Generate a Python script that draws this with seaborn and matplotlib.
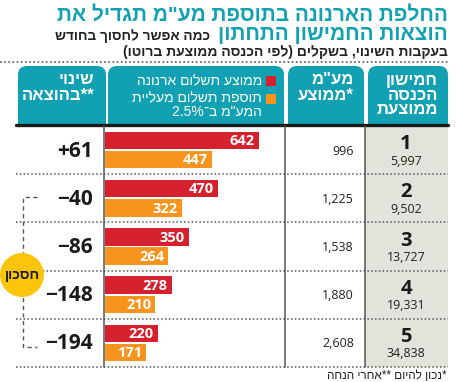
import re
import numpy as np
import pandas as pd
import matplotlib.pyplot as plt
import seaborn as sns
from matplotlib.patches import FancyBboxPatch, Rectangle, Circle

# נתונים לפי חמישון
quintiles = ['1', '2', '3', '4', '5']
income = [5997, 9502, 13727, 19331, 34838]
vat_avg = [996, 1225, 1538, 1880, 2608]
arnona = [642, 470, 350, 278, 220]
vat_extra = [447, 322, 264, 210, 171]
change = ['+61', '\u221240', '\u221286', '\u2212148', '\u2212194']

series_names = ['ממוצע תשלום ארנונה', 'תוספת תשלום מעליית המע"מ ב־2.5%']

TEAL = '#12a1b2'
RED = '#d5202e'
ORANGE = '#f7941d'
GRAY_BG = '#e3e2db'
LINE = '#555555'
HEB = ['Liberation Sans', 'DejaVu Sans']
NUM = ['Open Sans', 'DejaVu Sans']


def rtl(s):
    # matplotlib has no bidi: reverse for display, keep numbers left-to-right
    mirror = {'(': ')', ')': '('}
    r = ''.join(mirror.get(c, c) for c in s[::-1])
    return re.sub(r'[0-9.,%]*[0-9][0-9.,%]*', lambda m: m.group(0)[::-1], r)


sns.set_theme(style='white')
plt.rcParams['font.family'] = NUM

W, H = 458, 382
fig = plt.figure(figsize=(W / 100, H / 100), dpi=100)
bg = fig.add_axes([0, 0, 1, 1])
bg.set_xlim(0, W)
bg.set_ylim(H, 0)
bg.axis('off')

# כותרות
bg.text(448, 15, rtl('החלפת הארנונה בתוספת מע"מ תגדיל את'), ha='right', va='center',
        color=TEAL, fontsize=15, fontweight='bold', family=HEB)
bg.text(448, 35, rtl('הוצאות החמישון התחתון'), ha='right', va='center',
        color=TEAL, fontsize=15, fontweight='bold', family=HEB)
bg.text(210, 36, rtl('כמה אפשר לחסוך בחודש'), ha='right', va='center',
        color='#222222', fontsize=9.8, fontweight='bold', family=HEB)
bg.text(448, 52, rtl('בעקבות השינוי, בשקלים (לפי הכנסה ממוצעת ברוטו)'), ha='right', va='center',
        color='#222222', fontsize=10, fontweight='bold', family=HEB)
bg.plot([0, 448], [62, 62], color=LINE, lw=1.2, ls=(0, (1, 1.5)))

# כותרות עמודות
boxes = [(18, 106), (108, 284), (288, 364), (368, 448)]
for x0, x1 in boxes:
    bg.add_patch(FancyBboxPatch((x0, 66), x1 - x0, 58, boxstyle='round,pad=0,rounding_size=9',
                                fc=TEAL, ec='none'))
    bg.add_patch(Rectangle((x0, 100), x1 - x0, 24, fc=TEAL, ec='none'))

hdr = dict(ha='right', va='center', color='white', fontsize=12, fontweight='bold', family=HEB)
for i, t in enumerate(['חמישון', 'הכנסה', 'ממוצעת']):
    bg.text(438, 80 + i * 15, rtl(t), **hdr)
for i, t in enumerate(['מע"מ', '*ממוצע']):
    bg.text(354, 80 + i * 15, rtl(t), **hdr)
for i, t in enumerate(['שינוי', '**בהוצאה']):
    bg.text(94, 80 + i * 15, rtl(t), **hdr)

leg = dict(ha='right', va='center', color='white', fontsize=10, family=HEB)
bg.add_patch(Rectangle((266, 76), 10, 10, fc=RED, ec='none'))
bg.add_patch(Rectangle((266, 94), 10, 10, fc=ORANGE, ec='none'))
bg.text(262, 81, rtl(series_names[0]), **leg)
bg.text(262, 98, rtl('תוספת תשלום מעליית'), **leg)
bg.text(262, 112, rtl('המע"מ ב־2.5%'), **leg)

# טבלה
top, bottom = 126, 367
row_h = (bottom - top) / len(quintiles)
bg.add_patch(Rectangle((365, top), 83, bottom - top, fc=GRAY_BG, ec='none'))
bg.plot([16, 448], [125, 125], color='#1a1a1a', lw=2.4)
for i in range(1, len(quintiles) + 1):
    y = top + i * row_h
    bg.plot([16, 448], [y, y], color=LINE, lw=1.1, ls=(0, (1, 1.5)))
for x in [104, 285, 364.5]:
    bg.plot([x, x], [top, bottom], color=LINE, lw=1.1)

for i, q in enumerate(quintiles):
    yc = top + (i + 0.5) * row_h
    bg.text(93, yc + 1, change[i], ha='right', va='center', fontsize=15,
            fontweight='bold', color='#1a1a1a')
    bg.text(354, yc + 1, f'{vat_avg[i]:,}', ha='right', va='center', fontsize=9, color='#222222')
    bg.text(406, yc - 6, q, ha='center', va='center', fontsize=14.5, fontweight='bold', color='#1a1a1a')
    bg.text(406, yc + 11, f'{income[i]:,}', ha='center', va='center', fontsize=9, color='#222222')

# סוגר וחסכון
dash = dict(color=LINE, lw=1, ls=(0, (3, 2.5)))
bg.plot([37, 23, 23, 37], [197, 197, 347, 347], **dash)
bg.add_patch(Circle((22, 275), 22, fc='#fcc50b', ec='none', zorder=3))
bg.text(22, 275, rtl('חסכון'), ha='center', va='center', fontsize=10, fontweight='bold',
        color='#1a1a1a', zorder=4, family=HEB)

bg.text(447, 376, rtl('*נכון להיום **אחרי הנחה'), ha='right', va='center', fontsize=8.5,
        color='#222222', family=HEB)

# עמודות
df = pd.DataFrame({
    'quintile': quintiles * 2,
    'series': [series_names[0]] * 5 + [series_names[1]] * 5,
    'value': arnona + vat_extra,
})
ax = fig.add_axes([105 / W, 1 - bottom / H, (284 - 105) / W, (bottom - top) / H])
sns.barplot(data=df, y='quintile', x='value', hue='series', orient='h',
            palette=[RED, ORANGE], width=0.8, gap=0.1, saturation=1, linewidth=0,
            legend=False, ax=ax)
ax.set_xlim(0, 746)
ax.set_ylim(4.5, -0.5)
ax.axis('off')
for cont, vals in zip(ax.containers, [arnona, vat_extra]):
    for p, v in zip(cont, vals):
        ax.annotate(str(v), (p.get_width(), p.get_y() + p.get_height() / 2),
                    xytext=(-3, -0.5), textcoords='offset points', ha='right', va='center',
                    color='white', fontweight='bold', fontsize=10.5)

fig.savefig('out.png', dpi=100)
